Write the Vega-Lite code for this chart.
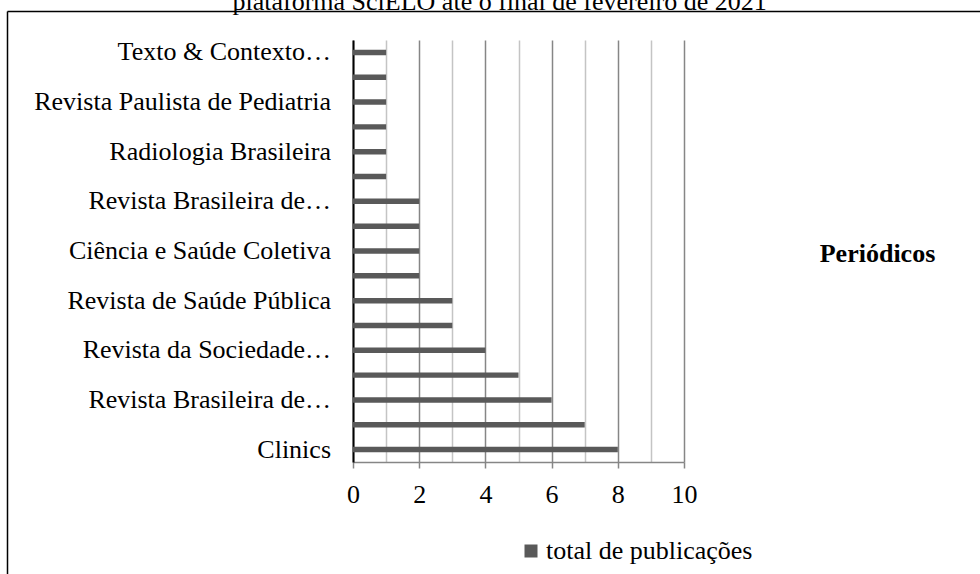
{
  "$schema": "https://vega.github.io/schema/vega-lite/v6.json",
  "autosize": {"type": "none"},
  "padding": {"left": 353, "top": 40, "right": 296, "bottom": 112},
  "width": 331,
  "height": 422,
  "config": {
    "font": "Liberation Serif",
    "view": {"stroke": null}
  },
  "data": {
    "values": [
      {"ordem": 1, "periodico": "Texto & Contexto…", "total": 1},
      {"ordem": 2, "periodico": "", "total": 1},
      {"ordem": 3, "periodico": "Revista Paulista de Pediatria", "total": 1},
      {"ordem": 4, "periodico": "", "total": 1},
      {"ordem": 5, "periodico": "Radiologia Brasileira", "total": 1},
      {"ordem": 6, "periodico": "", "total": 1},
      {"ordem": 7, "periodico": "Revista Brasileira de…", "total": 2},
      {"ordem": 8, "periodico": "", "total": 2},
      {"ordem": 9, "periodico": "Ciência e Saúde Coletiva", "total": 2},
      {"ordem": 10, "periodico": "", "total": 2},
      {"ordem": 11, "periodico": "Revista de Saúde Pública", "total": 3},
      {"ordem": 12, "periodico": "", "total": 3},
      {"ordem": 13, "periodico": "Revista da Sociedade…", "total": 4},
      {"ordem": 14, "periodico": "", "total": 5},
      {"ordem": 15, "periodico": "Revista Brasileira de…", "total": 6},
      {"ordem": 16, "periodico": "", "total": 7},
      {"ordem": 17, "periodico": "Clinics", "total": 8}
    ]
  },
  "layer": [
    {
      "encoding": {
        "y": {
          "field": "ordem",
          "type": "ordinal",
          "scale": {"paddingInner": 0.78, "paddingOuter": 0.39},
          "axis": {
            "orient": "left",
            "labels": false,
            "ticks": false,
            "grid": false,
            "domainColor": "#000000",
            "domainWidth": 2,
            "title": "Periódicos",
            "titleAngle": 0,
            "titleX": 524,
            "titleY": 213,
            "titleAlign": "center",
            "titleBaseline": "middle",
            "titleFont": "Liberation Serif",
            "titleFontSize": 26,
            "titleFontWeight": "bold",
            "titleColor": "#000000"
          }
        }
      },
      "layer": [
        {
          "mark": {"type": "bar"},
          "encoding": {
            "x": {
              "field": "total",
              "type": "quantitative",
              "scale": {"domain": [0, 10], "nice": false},
              "axis": {
                "orient": "bottom",
                "title": null,
                "tickCount": 20,
                "values": [0, 0.5, 1, 1.5, 2, 2.5, 3, 3.5, 4, 4.5, 5, 5.5, 6, 6.5, 7, 7.5, 8, 8.5, 9, 9.5, 10],
                "labelExpr": "datum.value % 2 === 0 ? toString(datum.value) : ''",
                "labelFont": "Liberation Serif",
                "labelFontSize": 26,
                "labelColor": "#000000",
                "labelBaseline": "alphabetic",
                "labelPadding": 34,
                "labelOverlap": false,
                "labelFlush": false,
                "domainColor": "#868686",
                "domainWidth": 1.5,
                "tickSize": 6,
                "tickWidth": 1.5,
                "tickColor": "#868686",
                "tickOpacity": {"condition": {"test": "datum.value % 2 === 0", "value": 1}, "value": 0},
                "grid": true,
                "gridColor": {"condition": {"test": "datum.value % 2 === 0", "value": "#868686"}, "value": "#c4c4c4"},
                "gridWidth": 1.5
              }
            },
            "color": {
              "datum": "total de publicações",
              "type": "nominal",
              "scale": {"range": ["#595959"]},
              "legend": {
                "title": null,
                "orient": "none",
                "legendX": 165,
                "legendY": 498,
                "symbolType": "square",
                "symbolSize": 169,
                "symbolStrokeWidth": 0,
                "labelFont": "Liberation Serif",
                "labelFontSize": 26,
                "labelColor": "#000000",
                "labelOffset": 2,
                "labelLimit": 500
              }
            }
          }
        },
        {
          "mark": {"type": "text", "align": "right", "baseline": "middle", "dx": -22, "font": "Liberation Serif", "fontSize": 26, "color": "#000000"},
          "encoding": {
            "x": {"datum": 0, "type": "quantitative", "scale": {"domain": [0, 10], "nice": false}, "axis": null},
            "text": {"field": "periodico"}
          }
        }
      ],
      "resolve": {
        "scale": {"x": "independent"},
        "axis": {"x": "independent"}
      }
    },
    {
      "mark": {"type": "point", "opacity": 0},
      "encoding": {
        "x": {
          "field": "total",
          "type": "quantitative",
          "scale": {"domain": [0, 10], "range": [-346, 700], "nice": false},
          "axis": {
            "orient": "top",
            "offset": 29,
            "labels": false,
            "ticks": false,
            "grid": false,
            "domainColor": "#000000",
            "domainWidth": 1.5,
            "title": "plataforma SciELO até o final de fevereiro de 2021",
            "titleX": -121,
            "titleY": -2,
            "titleAngle": 0,
            "titleAlign": "left",
            "titleBaseline": "alphabetic",
            "titleFont": "Liberation Serif",
            "titleFontSize": 26,
            "titleFontWeight": "normal",
            "titleColor": "#000000"
          }
        },
        "y": {
          "field": "ordem",
          "type": "ordinal",
          "scale": {"range": [-29, 600]},
          "axis": {
            "orient": "left",
            "offset": 346,
            "labels": false,
            "ticks": false,
            "grid": false,
            "title": null,
            "domainColor": "#000000",
            "domainWidth": 1.5
          }
        }
      }
    }
  ],
  "resolve": {
    "scale": {"x": "independent", "y": "independent"},
    "axis": {"x": "independent", "y": "independent"}
  }
}
